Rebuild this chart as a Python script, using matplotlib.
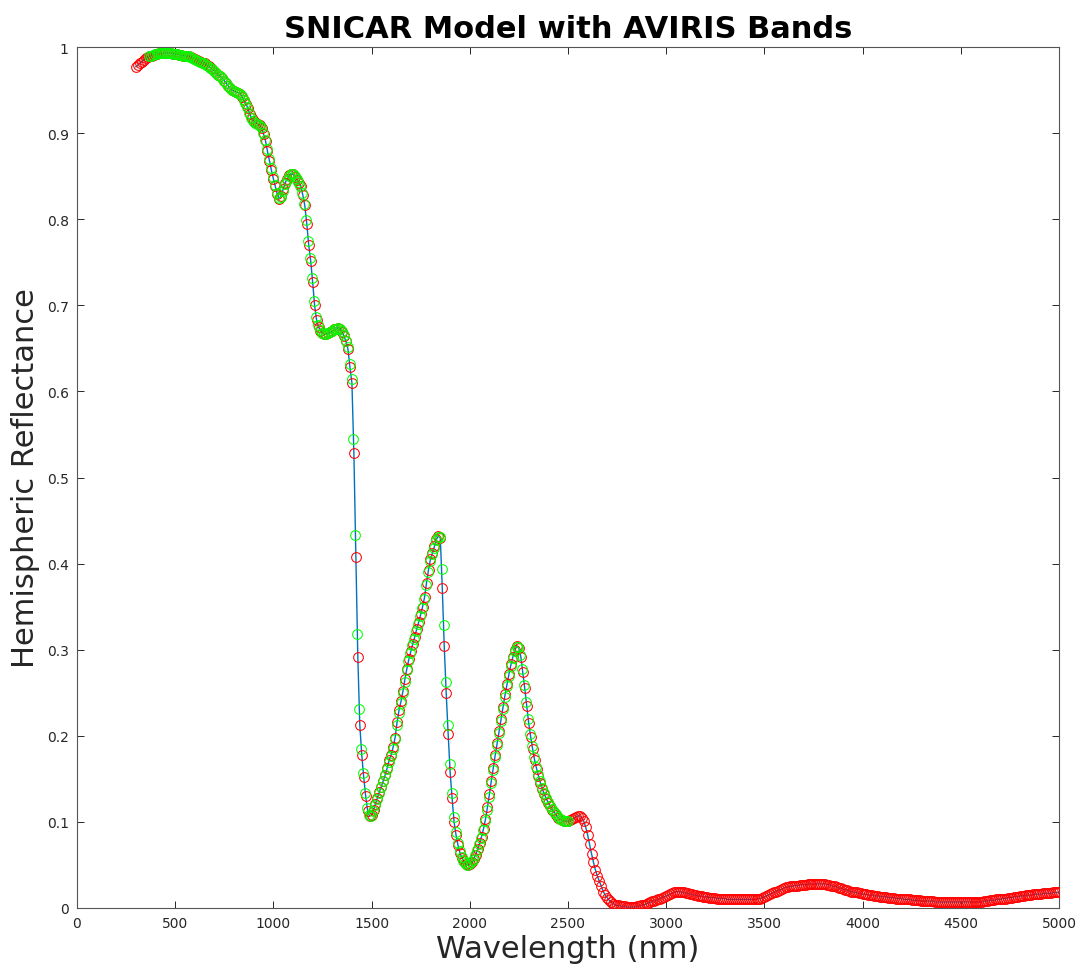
"""
plot.py — SNICAR modelled reflectance with AVIRIS band samples
"""

import numpy as np
import matplotlib
matplotlib.use('Agg')
import matplotlib.pyplot as plt

# ── SNICAR model, 10 nm steps from 300 to 5000 nm ────────────────────────────
MODEL_WL = np.arange(300, 5001, 10)
MODEL_REFL = [
    0.977, 0.979, 0.981, 0.983, 0.985, 0.987, 0.988, 0.989, 0.990, 0.991,
    0.992, 0.992, 0.993, 0.993, 0.993, 0.993, 0.993, 0.993, 0.993, 0.992,
    0.992, 0.992, 0.991, 0.991, 0.990, 0.990, 0.989, 0.989, 0.988, 0.987,
    0.986, 0.985, 0.984, 0.983, 0.982, 0.981, 0.979, 0.978, 0.976, 0.974,
    0.972, 0.970, 0.968, 0.966, 0.964, 0.961, 0.958, 0.955, 0.952, 0.950,
    0.949, 0.948, 0.947, 0.946, 0.942, 0.938, 0.934, 0.929, 0.922, 0.917,
    0.914, 0.912, 0.911, 0.910, 0.906, 0.899, 0.891, 0.879, 0.868, 0.857,
    0.847, 0.838, 0.829, 0.824, 0.827, 0.835, 0.842, 0.847, 0.851, 0.853,
    0.852, 0.849, 0.846, 0.842, 0.838, 0.828, 0.816, 0.795, 0.770, 0.752,
    0.727, 0.700, 0.683, 0.675, 0.670, 0.668, 0.667, 0.667, 0.668, 0.669,
    0.670, 0.672, 0.673, 0.674, 0.673, 0.669, 0.664, 0.658, 0.649, 0.628,
    0.610, 0.528, 0.408, 0.292, 0.213, 0.178, 0.152, 0.130, 0.113, 0.107,
    0.108, 0.114, 0.121, 0.128, 0.135, 0.141, 0.148, 0.155, 0.163, 0.172,
    0.178, 0.187, 0.198, 0.216, 0.230, 0.240, 0.252, 0.266, 0.278, 0.289,
    0.298, 0.307, 0.315, 0.324, 0.332, 0.341, 0.350, 0.361, 0.378, 0.393,
    0.405, 0.412, 0.420, 0.428, 0.432, 0.430, 0.372, 0.304, 0.250, 0.202,
    0.158, 0.128, 0.100, 0.085, 0.073, 0.064, 0.058, 0.054, 0.051, 0.050,
    0.051, 0.053, 0.057, 0.062, 0.068, 0.075, 0.083, 0.092, 0.103, 0.117,
    0.132, 0.148, 0.163, 0.178, 0.192, 0.206, 0.220, 0.234, 0.248, 0.260,
    0.272, 0.283, 0.292, 0.300, 0.304, 0.302, 0.292, 0.274, 0.255, 0.235,
    0.215, 0.199, 0.185, 0.172, 0.162, 0.153, 0.145, 0.138, 0.132, 0.127,
    0.122, 0.118, 0.114, 0.111, 0.108, 0.105, 0.103, 0.102, 0.101, 0.101,
    0.101, 0.102, 0.103, 0.104, 0.106, 0.107, 0.107, 0.105, 0.101, 0.094,
    0.085, 0.074, 0.063, 0.053, 0.044, 0.037, 0.031, 0.025, 0.019, 0.015,
    0.012, 0.009, 0.007, 0.005, 0.004, 0.003, 0.003, 0.002, 0.002, 0.002,
    0.001, 0.001, 0.001, 0.001, 0.001, 0.002, 0.002, 0.003, 0.003, 0.004,
    0.005, 0.006, 0.007, 0.008, 0.008, 0.009, 0.010, 0.011, 0.012, 0.013,
    0.014, 0.015, 0.016, 0.017, 0.018, 0.019, 0.019, 0.019, 0.018, 0.018,
    0.017, 0.017, 0.016, 0.016, 0.015, 0.015, 0.014, 0.014, 0.014, 0.013,
    0.013, 0.013, 0.012, 0.012, 0.012, 0.012, 0.011, 0.011, 0.011, 0.011,
    0.011, 0.010, 0.010, 0.010, 0.010, 0.010, 0.010, 0.010, 0.010, 0.010,
    0.010, 0.010, 0.010, 0.010, 0.010, 0.010, 0.010, 0.011, 0.011, 0.012,
    0.013, 0.014, 0.015, 0.016, 0.017, 0.018, 0.019, 0.020, 0.021, 0.022,
    0.023, 0.024, 0.024, 0.025, 0.025, 0.026, 0.026, 0.026, 0.027, 0.027,
    0.027, 0.027, 0.028, 0.028, 0.028, 0.028, 0.028, 0.028, 0.028, 0.028,
    0.028, 0.028, 0.027, 0.027, 0.026, 0.025, 0.025, 0.024, 0.023, 0.023,
    0.022, 0.021, 0.021, 0.020, 0.019, 0.019, 0.018, 0.018, 0.017, 0.017,
    0.016, 0.016, 0.016, 0.015, 0.015, 0.015, 0.014, 0.014, 0.014, 0.013,
    0.013, 0.013, 0.013, 0.012, 0.012, 0.012, 0.012, 0.011, 0.011, 0.011,
    0.011, 0.010, 0.010, 0.010, 0.010, 0.009, 0.009, 0.009, 0.009, 0.009,
    0.008, 0.008, 0.008, 0.008, 0.008, 0.008, 0.008, 0.007, 0.007, 0.007,
    0.007, 0.007, 0.007, 0.007, 0.007, 0.007, 0.007, 0.007, 0.007, 0.007,
    0.007, 0.007, 0.007, 0.007, 0.007, 0.007, 0.007, 0.007, 0.007, 0.007,
    0.007, 0.007, 0.008, 0.008, 0.008, 0.009, 0.009, 0.009, 0.010, 0.010,
    0.010, 0.011, 0.011, 0.011, 0.012, 0.012, 0.012, 0.013, 0.013, 0.013,
    0.014, 0.014, 0.014, 0.015, 0.015, 0.015, 0.015, 0.016, 0.016, 0.016,
    0.016, 0.016, 0.017, 0.017, 0.017, 0.017, 0.017, 0.018, 0.018, 0.018,
    0.018,
]

# ── AVIRIS band centres (368 .. 2498 nm) and band-averaged reflectance ───────
AVIRIS_WL = np.arange(368, 2499, 10)
AVIRIS_REFL = [
    0.989, 0.990, 0.991, 0.992, 0.992, 0.993, 0.993, 0.993, 0.993, 0.993,
    0.993, 0.993, 0.992, 0.992, 0.992, 0.991, 0.991, 0.990, 0.990, 0.989,
    0.989, 0.988, 0.987, 0.986, 0.985, 0.984, 0.983, 0.982, 0.981, 0.979,
    0.978, 0.976, 0.974, 0.972, 0.970, 0.968, 0.966, 0.964, 0.961, 0.958,
    0.955, 0.952, 0.950, 0.949, 0.948, 0.947, 0.946, 0.943, 0.939, 0.935,
    0.930, 0.923, 0.918, 0.914, 0.912, 0.911, 0.910, 0.907, 0.900, 0.892,
    0.881, 0.870, 0.859, 0.849, 0.840, 0.831, 0.825, 0.826, 0.833, 0.841,
    0.846, 0.850, 0.853, 0.852, 0.850, 0.847, 0.843, 0.839, 0.830, 0.818,
    0.799, 0.775, 0.755, 0.732, 0.705, 0.686, 0.677, 0.671, 0.668, 0.667,
    0.667, 0.668, 0.669, 0.670, 0.672, 0.673, 0.674, 0.673, 0.670, 0.665,
    0.659, 0.651, 0.632, 0.614, 0.545, 0.433, 0.318, 0.231, 0.185, 0.157,
    0.134, 0.116, 0.108, 0.107, 0.113, 0.120, 0.127, 0.134, 0.140, 0.147,
    0.154, 0.161, 0.170, 0.177, 0.185, 0.196, 0.212, 0.227, 0.238, 0.250,
    0.263, 0.276, 0.287, 0.296, 0.305, 0.313, 0.322, 0.330, 0.339, 0.348,
    0.359, 0.375, 0.390, 0.403, 0.411, 0.418, 0.427, 0.431, 0.431, 0.394,
    0.329, 0.262, 0.212, 0.167, 0.134, 0.106, 0.088, 0.075, 0.066, 0.059,
    0.055, 0.052, 0.050, 0.051, 0.053, 0.056, 0.061, 0.067, 0.074, 0.081,
    0.090, 0.101, 0.114, 0.129, 0.145, 0.160, 0.175, 0.189, 0.203, 0.217,
    0.231, 0.245, 0.258, 0.270, 0.281, 0.290, 0.298, 0.303, 0.303, 0.294,
    0.278, 0.259, 0.239, 0.219, 0.202, 0.188, 0.175, 0.164, 0.155, 0.147,
    0.139, 0.133, 0.128, 0.123, 0.119, 0.115, 0.112, 0.109, 0.106, 0.103,
    0.102, 0.101, 0.101, 0.101,
]

X_TICKS = [0, 500, 1000, 1500, 2000, 2500, 3000, 3500, 4000, 4500, 5000]
Y_TICKS = [0, 0.1, 0.2, 0.3, 0.4, 0.5, 0.6, 0.7, 0.8, 0.9, 1]
Y_TICK_LABELS = ["0", "0.1", "0.2", "0.3", "0.4", "0.5", "0.6", "0.7", "0.8", "0.9", "1"]

AXIS_GREY = "#262626"


def plot_spectrum():
    fig = plt.figure(figsize=(10.87, 9.70), dpi=100)
    ax = fig.add_axes([0.0708, 0.0629, 0.9034, 0.8876])

    # model line first, then the two sets of samples on top (matlab hold on)
    ax.plot(MODEL_WL, MODEL_REFL, color="#0072BD", linewidth=1.0, zorder=2)
    ax.plot(MODEL_WL, MODEL_REFL, "o", markerfacecolor="none",
            markeredgecolor="#ff0000", markersize=7, markeredgewidth=0.75,
            zorder=3)
    ax.plot(AVIRIS_WL, AVIRIS_REFL, "o", markerfacecolor="none",
            markeredgecolor="#00ff00", markersize=7, markeredgewidth=0.75,
            zorder=4)

    ax.set_xlim(0, 5000)
    ax.set_ylim(0, 1)
    ax.set_xticks(X_TICKS)
    ax.set_yticks(Y_TICKS)
    ax.set_yticklabels(Y_TICK_LABELS)

    ax.tick_params(direction="in", length=5, width=0.7, top=True, right=True,
                   labelsize=10, colors=AXIS_GREY, pad=6)
    for spine in ax.spines.values():
        spine.set_color("#555555")
        spine.set_linewidth(0.8)

    ax.set_xlabel("Wavelength (nm)", fontsize=22, color=AXIS_GREY, labelpad=3)
    ax.set_ylabel("Hemispheric Reflectance", fontsize=22, color=AXIS_GREY,
                  labelpad=5)
    ax.set_title("SNICAR Model with AVIRIS Bands", fontsize=22,
                 fontweight="bold", color="black", pad=7)

    fig.savefig("out.png", dpi=100, facecolor="white")
    plt.close(fig)


if __name__ == "__main__":
    plot_spectrum()
